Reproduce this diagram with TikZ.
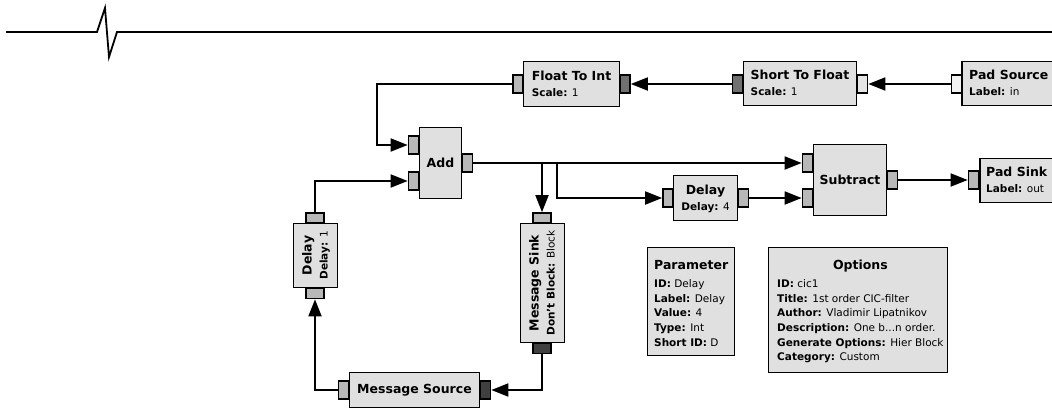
\documentclass[tikz,border=0pt]{standalone}
\usepackage{fontspec}
\setmainfont{DejaVu Sans}
\usetikzlibrary{arrows.meta}
\definecolor{gfill}{RGB}{224,224,224}
\definecolor{gport}{RGB}{184,184,184}
\definecolor{gdark}{RGB}{112,112,112}
\definecolor{gmsg}{RGB}{64,64,64}
\definecolor{glight}{RGB}{228,228,228}
\definecolor{gwhite}{RGB}{242,242,242}
\newcommand\gtf{\fontsize{12.5}{12.5}\selectfont\bfseries}
\newcommand\gpf{\fontsize{10.5}{16}\selectfont}
\newcommand\gkv[2]{\textbf{#1:} #2}
\newcommand\gblk[2]{\gpf\begin{tabular}{@{}l@{}}\multicolumn{1}{@{}c@{}}{\gtf #1}\\#2\end{tabular}}
\tikzset{
  blkbox/.style={draw, line width=1.7pt, fill=gfill, inner sep=0pt},
  hport/.style={draw, line width=1.6pt, fill=gport, inner sep=0pt, minimum width=10pt, minimum height=18pt},
  vport/.style={draw, line width=1.6pt, fill=gport, inner sep=0pt, minimum width=18pt, minimum height=10pt},
  conn/.style={line width=1.8pt, -{Triangle[length=17pt,width=13pt]}},
  txt/.style={inner sep=0pt}
}
\begin{document}
\begin{tikzpicture}[x=1pt,y=-1pt]
\useasboundingbox (0,0) rectangle (1052,410);
\clip (0,0) rectangle (1052,410);
% top line with spike
\draw[line width=1.8pt] (6,32) -- (97,32) -- (105,8) -- (109,57) -- (117,32) -- (1052,32);

% ports
\node[hport] (fti-in) at (518,84) {};
\node[hport, fill=gdark] (fti-out) at (625,84) {};
\node[hport, fill=gdark] (stf-in) at (737.5,84) {};
\node[hport, fill=glight] (stf-out) at (862.5,84) {};
\node[hport, fill=gwhite] (psrc-out) at (956.5,84) {};
\node[hport] (add-in1) at (413.5,145) {};
\node[hport] (add-in2) at (413.5,181) {};
\node[hport] (add-out) at (467.5,163) {};
\node[hport] (sub-in1) at (807.5,163) {};
\node[hport] (sub-in2) at (807.5,198) {};
\node[hport] (sub-out) at (892.5,180) {};
\node[hport] (psink-in) at (973.5,180) {};
\node[hport] (dly4-in) at (668,198) {};
\node[hport] (dly4-out) at (743.5,198) {};
\node[vport] (dly1-out) at (315,218) {};
\node[vport] (dly1-in) at (315,293.5) {};
\node[vport] (msink-in) at (542,218) {};
\node[vport, fill=gmsg] (msink-out) at (542,348.5) {};
\node[hport] (msrc-out) at (343.5,390) {};
\node[hport, fill=gmsg] (msrc-in) at (485.5,390) {};

% blocks
\node[blkbox, minimum width=96pt, minimum height=45pt] (fti) at (571.5,84) {};
\node[txt] (fti-t) at (571.5,85) {\gblk{Float To Int}{\gkv{Scale}{1}}};
\node[blkbox, minimum width=113pt, minimum height=44pt] (stf) at (800,83.5) {};
\node[txt] (stf-t) at (800,84.5) {\gblk{Short To Float}{\gkv{Scale}{1}}};
\node[blkbox, minimum width=110pt, minimum height=44pt] (psrc) at (1017,83.5) {};
\node[txt, anchor=west] (psrc-t) at (969,84.5) {\gblk{Pad Source}{\gkv{Label}{in}}};
\node[blkbox, minimum width=42pt, minimum height=71pt] (add) at (440.5,163) {};
\node[txt] (add-t) at (440.5,163) {\gtf Add};
\node[blkbox, minimum width=73pt, minimum height=71pt] (sub) at (850,180) {};
\node[txt] (sub-t) at (850,180) {\gtf Subtract};
\node[blkbox, minimum width=100pt, minimum height=44pt] (psink) at (1030,180.5) {};
\node[txt, anchor=west] (psink-t) at (986,181.5) {\gblk{Pad Sink}{\gkv{Label}{out}}};
\node[blkbox, minimum width=64pt, minimum height=45pt] (dly4) at (705.5,198) {};
\node[txt] (dly4-t) at (705.5,199) {\gblk{Delay}{\gkv{Delay}{4}}};
\node[blkbox, minimum width=44pt, minimum height=64pt] (dly1) at (315.5,255.5) {};
\node[txt, rotate=90] (dly1-t) at (316.5,255.5) {\gblk{Delay}{\gkv{Delay}{1}}};
\node[blkbox, minimum width=44pt, minimum height=119pt] (msink) at (542.5,283) {};
\node[txt, rotate=90] (msink-t) at (543.5,283) {\gblk{Message Sink}{\gkv{Don't Block}{Block}}};
\node[blkbox, minimum width=130pt, minimum height=35pt] (msrc) at (414.5,390) {};
\node[txt] (msrc-t) at (414.5,390) {\gtf Message Source};

% parameter and options
\node[blkbox, minimum width=87pt, minimum height=108pt] (par) at (691,301.5) {};
\node[txt, anchor=north west] (par-t) at (654,259) {\fontsize{10.5}{14.7}\selectfont\begin{tabular}{@{}l@{}}\multicolumn{1}{@{}c@{}}{\gtf Parameter}\\[3.3pt]
\gkv{ID}{Delay}\\ \gkv{Label}{Delay}\\ \gkv{Value}{4}\\ \gkv{Type}{Int}\\ \gkv{Short ID}{D}\end{tabular}};
\node[blkbox, minimum width=179pt, minimum height=125pt] (opt) at (858,310) {};
\node[txt, anchor=north west] (opt-t) at (777,259) {\fontsize{10.5}{14.7}\selectfont\begin{tabular}{@{}l@{}}\multicolumn{1}{@{}c@{}}{\gtf Options}\\[3.3pt]
\gkv{ID}{cic1}\\ \gkv{Title}{1st order CIC-filter}\\ \gkv{Author}{Vladimir Lipatnikov}\\ \gkv{Description}{One b...n order.}\\ \gkv{Generate Options}{Hier Block}\\ \gkv{Category}{Custom}\end{tabular}};

% connections
\coordinate (c3) at (377,0);
\coordinate (c6) at (557,0);
\draw[conn] (psrc-out.west) -- (stf-out.east);
\draw[conn] (stf-in.west) -- (fti-out.east);
\draw[conn] (fti-in.west) -- (fti-in.west -| c3) |- (add-in1.west);
\draw[conn] (add-out.east) -- (sub-in1.west);
\draw[conn] (add-out.east) -| (msink-in.north);
\draw[conn] (add-out.east) -- (add-out.east -| c6) |- (dly4-in.west);
\draw[conn] (dly4-out.east) -- (sub-in2.west);
\draw[conn] (sub-out.east) -- (psink-in.west);
\draw[conn] (msink-out.south) |- (msrc-in.east);
\draw[conn] (msrc-out.west) -| (dly1-in.south);
\draw[conn] (dly1-out.north) |- (add-in2.west);
\end{tikzpicture}
\end{document}
